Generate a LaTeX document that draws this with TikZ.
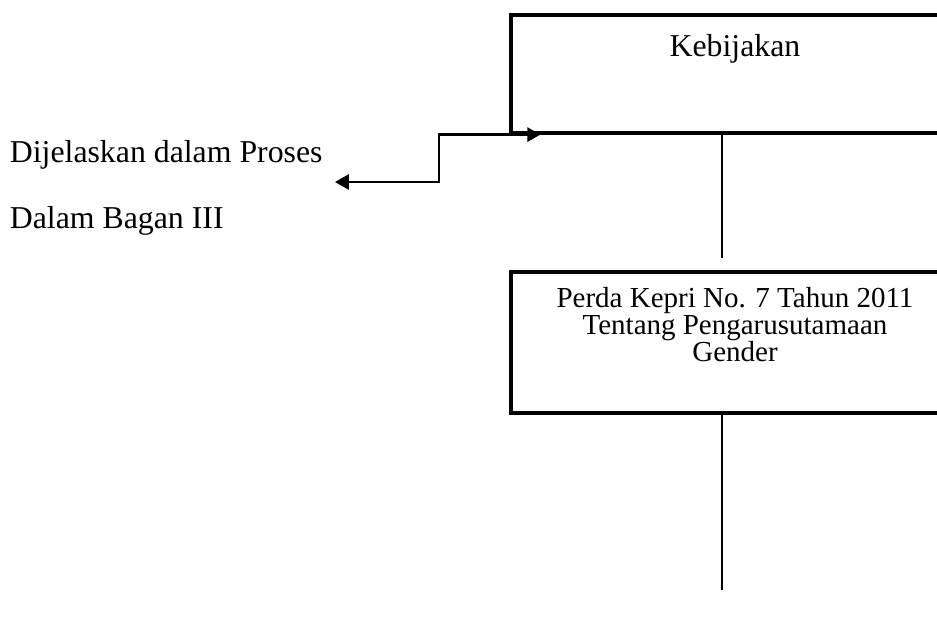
\documentclass[tikz,border=0pt]{standalone}
\usepackage{fontspec}
\setmainfont{Liberation Serif}
\usetikzlibrary{arrows.meta, positioning}

\begin{document}
\begin{tikzpicture}[x=0.5pt, y=-0.5pt,
        kotak/.style={draw, rectangle, line width=1.6pt, minimum width=224pt, inner sep=0pt},
        garis/.style={line width=0.9pt},
        panah/.style={line width=1.4pt, {Triangle[length=7pt,width=7.5pt]}-{Triangle[length=6.5pt,width=7pt]}}]
        \clip (0,0) rectangle (937,618);

        % Kotak: Kebijakan
        \node[kotak, minimum height=59pt,
            label={[anchor=north, yshift=-10.3pt, inner sep=0pt, font=\fontsize{15.9}{16}\selectfont]north:Kebijakan}]
            (kebijakan) at (735,74) {};

        % Kotak: Perda
        \node[kotak, minimum height=70.5pt,
            label={[anchor=north, yshift=-8.5pt, inner sep=0pt, align=center, font=\fontsize{14.5}{13.5}\selectfont]north:Perda Kepri No. 7 Tahun 2011\\Tentang Pengarusutamaan\\Gender}]
            (perda) at (735,342.5) {};

        % Keterangan kiri
        \node[anchor=north west, align=left, inner xsep=6pt, inner ysep=0pt,
            font=\fontsize{15.9}{33}\selectfont] (keterangan) at (-2.5,140)
            {Dijelaskan dalam Proses\\Dalam Bagan III};

        % Garis penghubung
        \coordinate (ujung1) at (722,258);
        \coordinate (ujung2) at (722,590);
        \draw[garis] (kebijakan.south -| ujung1) -- (ujung1);
        \draw[garis] (perda.south -| ujung2) -- (ujung2);

        % Panah ke keterangan
        \coordinate (belok) at (439,182);
        \coordinate (mata) at ([xshift=15.5pt]kebijakan.south west);
        \draw[panah] (keterangan.east |- belok) -- (belok) |- (mata);
    \end{tikzpicture}
\end{document}
